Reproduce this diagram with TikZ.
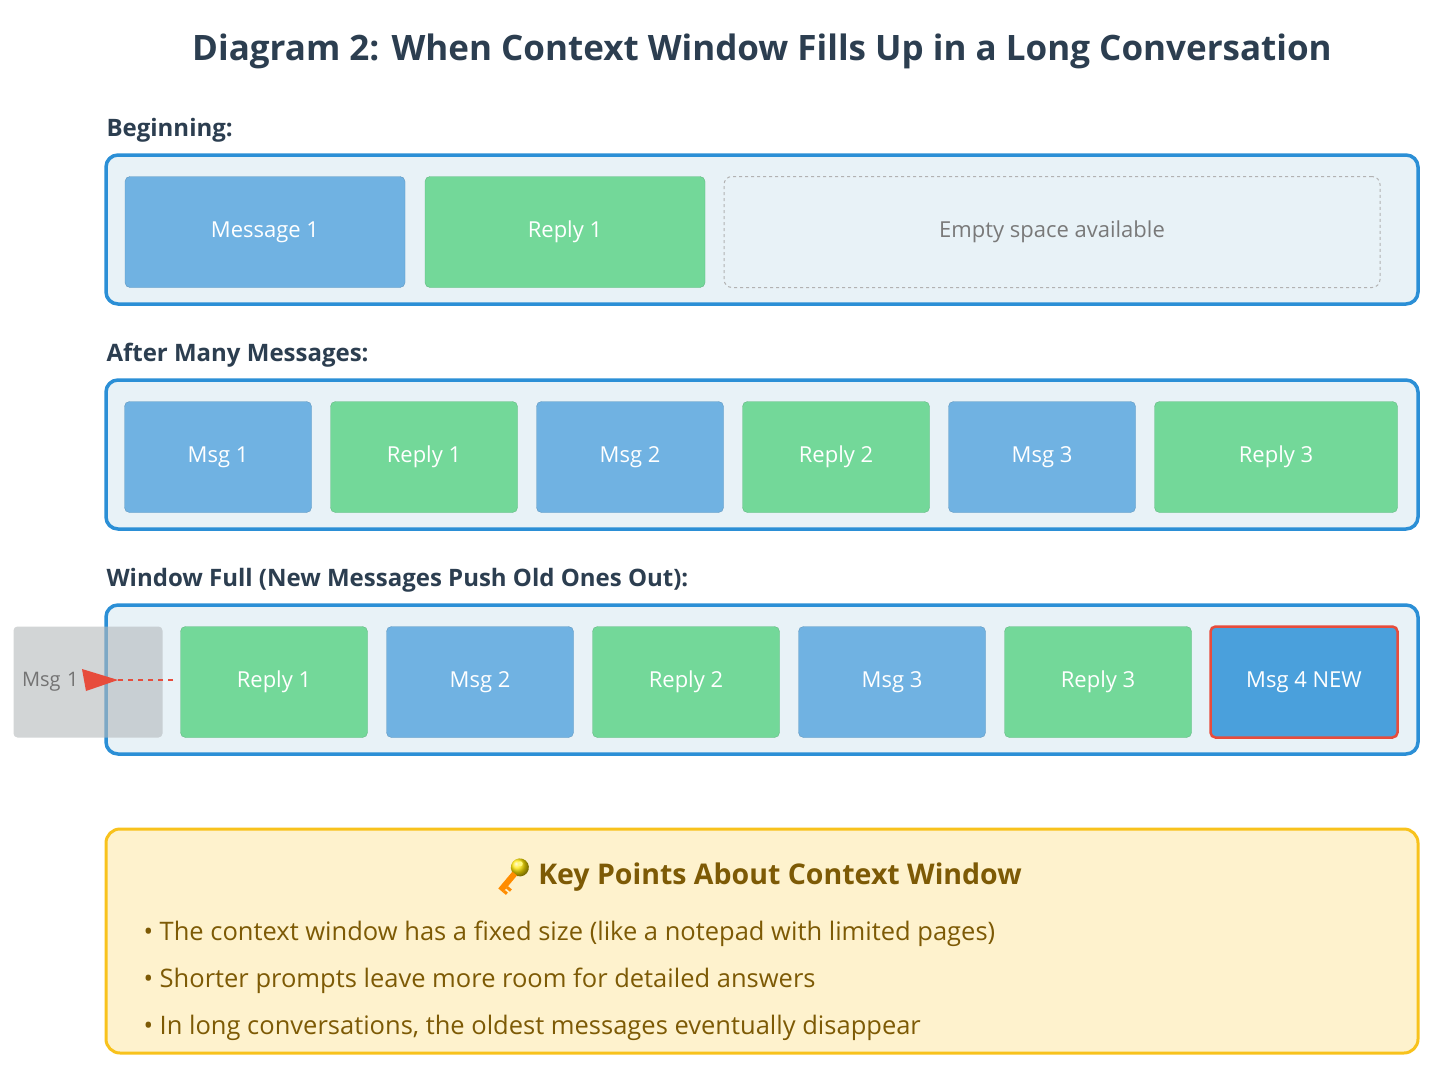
\documentclass[tikz,border=0pt]{standalone}
\usepackage{fontspec}
\setmainfont{Open Sans}
\begin{document}
\begin{tikzpicture}[x=1pt,y=-1pt,
  win/.style={draw=winb,line width=3.5pt,fill=winf,rounded corners=12pt},
  blk/.style={rounded corners=5pt,text=white,font=\fontsize{22}{25}\selectfont},
  msg/.style={blk,fill=msgc,draw=msgc!85!black,line width=0.4pt},
  rep/.style={blk,fill=repc,draw=repc!85!black,line width=0.4pt},
  hdr/.style={anchor=west,font=\fontsize{24}{27}\selectfont\bfseries,text=titc},
  bul/.style={anchor=west,font=\fontsize{25.5}{29}\selectfont,text=keyt}]
\definecolor{winb}{HTML}{2B8FD6}\definecolor{winf}{HTML}{E8F2F7}
\definecolor{msgc}{HTML}{70B2E2}\definecolor{repc}{HTML}{73D899}
\definecolor{titc}{HTML}{2C3E50}\definecolor{keyt}{HTML}{7D5A05}
\definecolor{keyf}{HTML}{FEF2CD}\definecolor{keyb}{HTML}{F8C21C}
\definecolor{nw}{HTML}{4AA0DC}\definecolor{rd}{HTML}{E74C3C}
\useasboundingbox (0,0) rectangle (1456,1070);
\fill[white] (0,0) rectangle (1456,1070);
\node (title) at (762,51) {\fontsize{35}{40}\selectfont\bfseries\color{titc}Diagram 2: When Context Window Fills Up in a Long Conversation};
% Row 1
\node[hdr] (h1) at (103,130) {Beginning:};
\draw[win] (106,155) rectangle (1418,304);
\node[msg] (m1) at (265,232) [minimum width=280,minimum height=111] {Message 1};
\node[rep] (r1) at (565,232) [minimum width=280,minimum height=111] {Reply 1};
\node[draw=gray!60,dashed,line width=1pt,rounded corners=8pt,fill=winf,text=gray!95!black,
  font=\fontsize{22}{25}\selectfont,minimum width=656,minimum height=111] (e1) at (1052,232) {Empty space available};
% Row 2
\node[hdr] (h2) at (103,355) {After Many Messages:};
\draw[win] (106,380) rectangle (1418,529);
\foreach \n/\c/\t/\s in {a/218/Msg 1/msg,b/424/Reply 1/rep,c/630/Msg 2/msg,d/836/Reply 2/rep,e/1042/Msg 3/msg}
  \node[\s,minimum width=187,minimum height=111] (q\n) at (\c,457) {\t};
\node[rep,minimum width=243,minimum height=111] (qf) at (1276,457) {Reply 3};
% Row 3
\node[hdr] (h3) at (103,580) {Window Full (New Messages Push Old Ones Out):};
\draw[win] (106,605) rectangle (1418,754);
\foreach \n/\c/\t/\s in {b/274/Reply 1/rep,c/480/Msg 2/msg,d/686/Reply 2/rep,e/892/Msg 3/msg,f/1098/Reply 3/rep}
  \node[\s,minimum width=187,minimum height=111] (w\n) at (\c,682) {\t};
\node[blk,fill=nw,draw=rd,minimum width=187,minimum height=111,line width=2.5pt] (wg) at (1304,682) {Msg 4 NEW};
\node[fill=gray!50!winf,opacity=0.6,text opacity=1,rounded corners=4pt,text=gray!90!black,
  font=\fontsize{20}{23}\selectfont,minimum width=149,minimum height=111,inner sep=0,text width=132] (old) at (88,682) {Msg 1};
\coordinate (as) at (173,680);
\coordinate (at) at (118,680);
\draw[rd,line width=2.5pt,dash pattern=on 5pt off 5pt] (as) -- (at);
\fill[rd] (at) -- (82,669) -- (86,691) -- cycle;
% Key points
\draw[draw=keyb,line width=3pt,fill=keyf,rounded corners=14pt] (106,829) rectangle (1418,1053);
\node (kt) at (780,877) {\fontsize{28.5}{32}\selectfont\bfseries\color{keyt}Key Points About Context Window};
\begin{scope}[shift={(516,872)},rotate=-40]
  \shade[ball color=yellow!80!orange] (0,-6) circle (9);
  \fill[yellow!50] (-2,-9) circle (2.5);
  \fill[orange!90!yellow] (-3,2) rectangle (3,24);
  \fill[orange!90!yellow] (3,16) rectangle (8,19);
  \fill[orange!90!yellow] (3,21) rectangle (7,24);
\end{scope}
\node[bul] (b1) at (140,934) {• The context window has a fixed size (like a notepad with limited pages)};
\node[bul] (b2) at (140,981) {• Shorter prompts leave more room for detailed answers};
\node[bul] (b3) at (140,1028) {• In long conversations, the oldest messages eventually disappear};
\end{tikzpicture}
\end{document}
